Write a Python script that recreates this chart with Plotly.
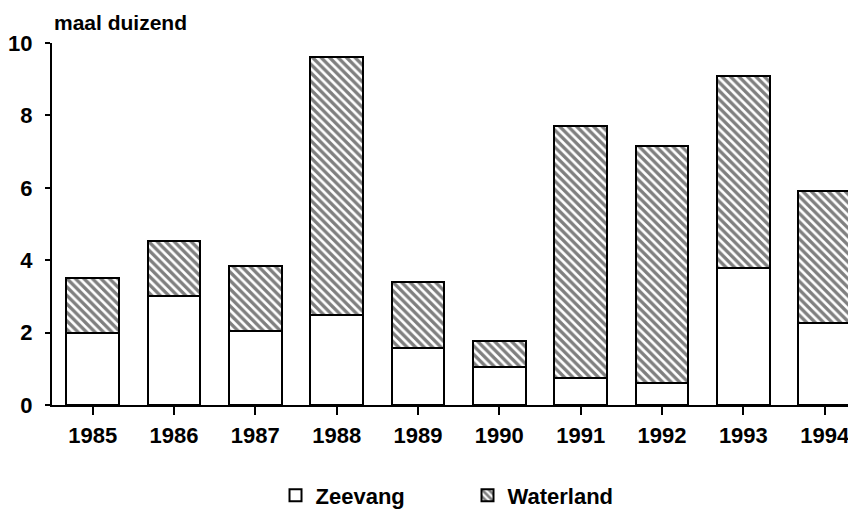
import plotly.graph_objects as go

years = ["1985", "1986", "1987", "1988", "1989", "1990", "1991", "1992", "1993", "1994"]
zeevang = [2.0, 3.02, 2.05, 2.5, 1.57, 1.06, 0.74, 0.6, 3.78, 2.26]
totals = [3.51, 4.53, 3.85, 9.62, 3.39, 1.78, 7.72, 7.16, 9.09, 5.91]
waterland = [round(t - z, 2) for t, z in zip(totals, zeevang)]
y_ticks = [0, 2, 4, 6, 8, 10]

FONT = "Liberation Sans, Arial, sans-serif"

fig = go.Figure()
fig.add_trace(go.Bar(
    x=list(range(len(years))), y=zeevang, name="Zeevang",
    width=0.65,
    marker=dict(color="white", line=dict(color="black", width=2)),
))
fig.add_trace(go.Bar(
    x=list(range(len(years))), y=waterland, name="Waterland",
    width=0.65,
    marker=dict(color="white", line=dict(color="black", width=2),
                pattern=dict(shape="\\", fgcolor="black", bgcolor="white",
                             size=6, solidity=0.55)),
))

fig.update_layout(
    barmode="stack",
    width=848, height=508,
    margin=dict(l=44, r=0, t=35, b=111, autoexpand=False),
    plot_bgcolor="white", paper_bgcolor="white",
    font=dict(family=FONT, size=21, color="black", weight="bold"),
    showlegend=True,
    legend=dict(orientation="h", x=0.278, xanchor="left", y=-0.25, yanchor="middle",
                font=dict(size=22, family=FONT, weight="bold"),
                entrywidth=147, entrywidthmode="pixels",
                traceorder="normal", itemsizing="constant"),
    xaxis=dict(
        range=[-0.5, 9.385], automargin=False,
        tickmode="array", tickvals=list(range(len(years))), ticktext=years,
        showgrid=False, zeroline=False,
        showline=True, linecolor="black", linewidth=2,
        ticks="outside", ticklen=8, tickwidth=2, tickcolor="black",
        tickfont=dict(size=22, family=FONT, weight="bold"),
        ticklabelstandoff=2,
    ),
    yaxis=dict(
        range=[0, 10], automargin=False,
        tickmode="array", tickvals=y_ticks,
        showgrid=False, zeroline=False,
        showline=True, linecolor="black", linewidth=2,
        ticks="outside", ticklen=5, tickwidth=2, tickcolor="black",
        tickfont=dict(size=22, family=FONT, weight="bold"),
        ticklabelstandoff=8,
    ),
    annotations=[dict(
        text="maal duizend", xref="paper", yref="paper", x=0, y=1,
        xanchor="left", yanchor="bottom", yshift=7, showarrow=False,
        font=dict(size=21, family=FONT, weight="bold"),
    )],
)

fig.write_html("out.html")
